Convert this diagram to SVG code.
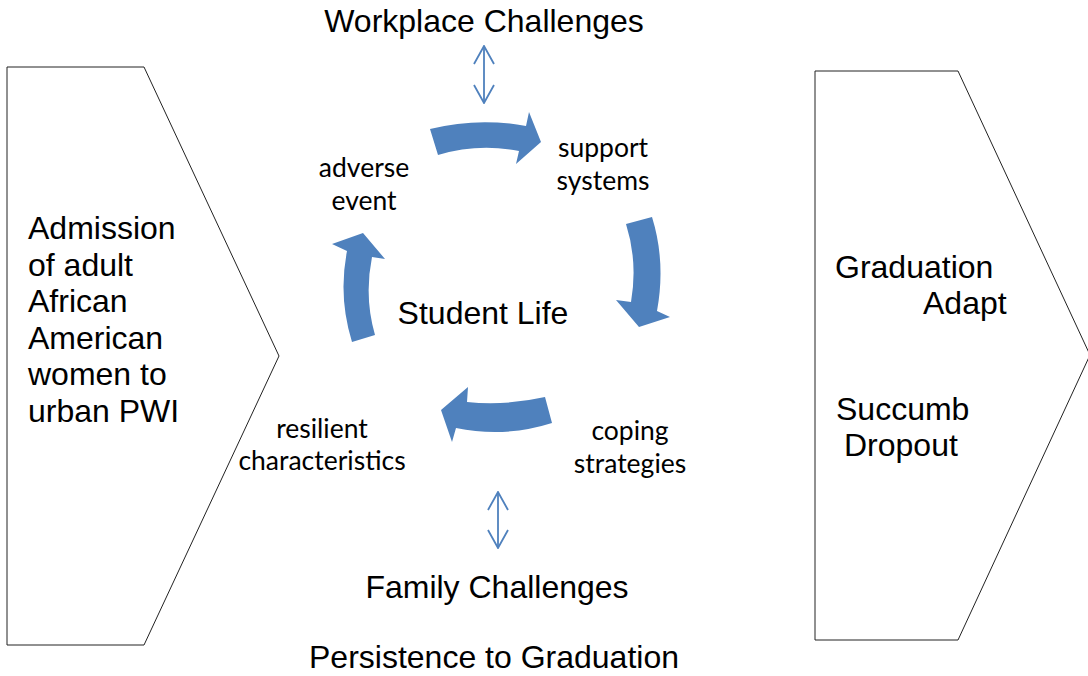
<svg xmlns="http://www.w3.org/2000/svg" width="1088" height="676" viewBox="0 0 1088 676">
<defs>
<style>
.big{font-family:"Liberation Sans",Arial,sans-serif;font-size:32px;fill:#000}
.small{font-family:Lato,"Open Sans",sans-serif;font-size:26.5px;fill:#000;text-anchor:middle}
.chev{fill:#fff;stroke:#222;stroke-width:1}
.cyc{fill:#4F81BD;stroke:none}
.dbl{stroke:#4F81BD;stroke-width:1.8;fill:none}
</style>
<marker id="open" viewBox="0 0 20 24" refX="19" refY="12" markerWidth="20" markerHeight="24" markerUnits="userSpaceOnUse" orient="auto-start-reverse">
<polyline points="1,2 19,12 1,22" fill="none" stroke="#4F81BD" stroke-width="1.8"/>
</marker>
</defs>
<rect width="1088" height="676" fill="#fff"/>
<g id="admission">
<polygon class="chev" points="7,67 144,67 279,356 144,645 7,645"/>
<text class="big" x="28" y="239">Admission</text>
<text class="big" x="28" y="276">of adult</text>
<text class="big" x="28" y="312">African</text>
<text class="big" x="28" y="349">American</text>
<text class="big" x="28" y="385">women to</text>
<text class="big" x="28" y="422">urban PWI</text>
</g>
<g id="outcome">
<polygon class="chev" points="815,71 958,71 1090,355 958,640 815,640"/>
<text class="big" x="835" y="278">Graduation</text>
<text class="big" x="923" y="314">Adapt</text>
<text class="big" x="836" y="420">Succumb</text>
<text class="big" x="844" y="456">Dropout</text>
</g>
<g id="workplace"><text class="big" x="484" y="32" text-anchor="middle">Workplace Challenges</text></g>
<g id="family"><text class="big" x="497" y="598" text-anchor="middle">Family Challenges</text></g>
<g id="persistence"><text class="big" x="494" y="668" text-anchor="middle">Persistence to Graduation</text></g>
<g id="student-life"><text class="big" x="483" y="324" text-anchor="middle">Student Life</text></g>
<g id="adverse"><text class="small" x="364" y="177">adverse</text><text class="small" x="364" y="210">event</text></g>
<g id="support"><text class="small" x="603" y="157">support</text><text class="small" x="603" y="190">systems</text></g>
<g id="coping"><text class="small" x="630" y="440">coping</text><text class="small" x="630" y="473">strategies</text></g>
<g id="resilient"><text class="small" x="322" y="438">resilient</text><text class="small" x="322" y="470">characteristics</text></g>
<g id="connectors">
<path class="cyc" d="M430,129 Q478,117 526,126 L529,112 L541,142 L516,164 L519,151 Q478,143 438,155 Z"/>
<path class="cyc" d="M626,224 L652,217 Q666,262 657,311 L670,317 L639,327 L616,300 L631,302 Q638,262 626,224 Z"/>
<path class="cyc" d="M545,397 Q505,406 467,402 L468,387 L441,410 L452,442 L456,428 Q505,438 552,423 Z"/>
<path class="cyc" d="M352,342 Q338,297 347,251 L332,244 L363,233 L385,259 L372,257 Q364,297 375,335 Z"/>
<line class="dbl" x1="484" y1="46" x2="484" y2="103" marker-start="url(#open)" marker-end="url(#open)"/>
<line class="dbl" x1="498" y1="492" x2="498" y2="548" marker-start="url(#open)" marker-end="url(#open)"/>
</g>
</svg>
